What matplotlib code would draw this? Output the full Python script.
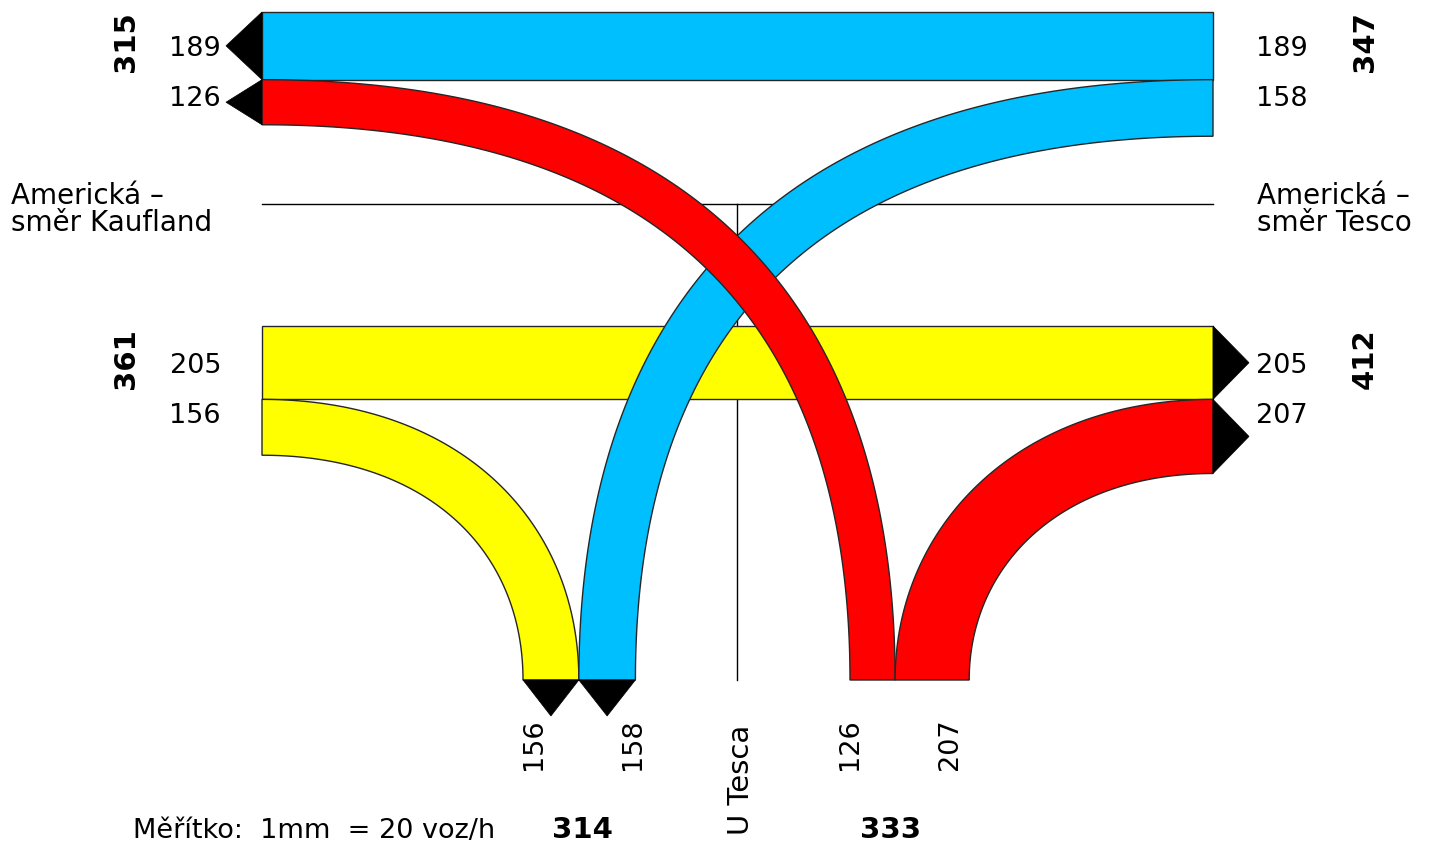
import numpy as np
import matplotlib
matplotlib.use("Agg")
import matplotlib.pyplot as plt
from matplotlib.patches import Polygon

# ---------------- data (voz/h) ----------------
# upper carriageway of Americká (towards Kaufland, flows end on the left side)
upper_left_values = [189, 126]          # straight (blue), from U Tesca (red)
upper_left_total = 315
# upper carriageway, right side (coming from Tesco)
upper_right_values = [189, 158]         # straight (blue), to U Tesca (blue)
upper_right_total = 347
# lower carriageway, left side (coming from Kaufland)
lower_left_values = [205, 156]          # straight (yellow), to U Tesca (yellow)
lower_left_total = 361
# lower carriageway, right side (towards Tesco)
lower_right_values = [205, 207]         # straight (yellow), from U Tesca (red)
lower_right_total = 412
# U Tesca arm (bottom)
bottom_out_values = [156, 158]          # to U Tesca: yellow, blue
bottom_out_total = 314
bottom_in_values = [126, 207]           # from U Tesca: red to left, red to right
bottom_in_total = 333

colors = {"blue": "#00BFFF", "red": "#FF0000", "yellow": "#FFFF00"}
arm_left_name = ["Americká –", "směr Kaufland"]
arm_right_name = ["Americká –", "směr Tesco"]
arm_bottom_name = "U Tesca"
scale_note = "Měřítko:  1mm  = 20 voz/h"

# ---------------- layout ----------------
PX_PER_VEH = 0.358
X_LEFT, X_RIGHT = 262, 1213
Y_TOP, Y_LOWER, Y_BOTTOM = 12, 326, 680
X_BOT_L, X_BOT_R = 523, 850
ARROW = 36
Y_HLINE, X_VLINE = 204, 737
EDGE = "#262626"
LW = 1.0

fig = plt.figure(figsize=(14.37, 8.49), dpi=100)
ax = fig.add_axes([0, 0, 1, 1])
ax.set_xlim(0, 1437)
ax.set_ylim(849, 0)
ax.axis("off")


def stack(start, values):
    w = np.array(values) * PX_PER_VEH
    edges = start + np.concatenate([[0], np.cumsum(w)])
    return edges


ul = stack(Y_TOP, upper_left_values)
ur = stack(Y_TOP, upper_right_values)
ll = stack(Y_LOWER, lower_left_values)
lr = stack(Y_LOWER, lower_right_values)
bl = stack(X_BOT_L, bottom_out_values)
br = stack(X_BOT_R, bottom_in_values)


def hband(x0, x1, y0, y1, color, z):
    ax.add_patch(Polygon([[x0, y0], [x1, y0], [x1, y1], [x0, y1]], closed=True,
                         facecolor=color, edgecolor=EDGE, lw=LW, zorder=z))


def curve_band(xs, ys0, ys1, xb0, xb1, color, k_side, k_bot, z):
    """band from a side (x=xs, y in [ys0,ys1]) to bottom (y=Y_BOTTOM, x in [xb0,xb1])"""
    w = ys1 - ys0
    S = np.array([xs, (ys0 + ys1) / 2])
    B = np.array([(xb0 + xb1) / 2, Y_BOTTOM])
    P1 = np.array([S[0] + k_side * (B[0] - S[0]), S[1]])
    P2 = np.array([B[0], B[1] - k_bot * (B[1] - S[1])])
    t = np.linspace(0, 1, 400)[:, None]
    C = (1 - t) ** 3 * S + 3 * (1 - t) ** 2 * t * P1 + 3 * (1 - t) * t ** 2 * P2 + t ** 3 * B
    D = 3 * (1 - t) ** 2 * (P1 - S) + 6 * (1 - t) * t * (P2 - P1) + 3 * t ** 2 * (B - P2)
    N = np.column_stack([-D[:, 1], D[:, 0]])
    N /= np.linalg.norm(N, axis=1)[:, None]
    e1 = C + N * w / 2
    e2 = C - N * w / 2
    poly = np.vstack([e1, e2[::-1]])
    ax.add_patch(Polygon(poly, closed=True, facecolor=color, edgecolor=EDGE,
                         lw=LW, zorder=z, joinstyle="miter"))


def arrow_side(x, y0, y1, direction):
    ax.add_patch(Polygon([[x, y0], [x, y1], [x + direction * ARROW, (y0 + y1) / 2]],
                         closed=True, facecolor="black", edgecolor="black", lw=0.5, zorder=6))


def arrow_down(x0, x1):
    ax.add_patch(Polygon([[x0, Y_BOTTOM], [x1, Y_BOTTOM], [(x0 + x1) / 2, Y_BOTTOM + ARROW]],
                         closed=True, facecolor="black", edgecolor="black", lw=0.5, zorder=6))


# axis lines of the junction
ax.plot([X_LEFT, X_RIGHT], [Y_HLINE, Y_HLINE], color="black", lw=1.0, zorder=1)
ax.plot([X_VLINE, X_VLINE], [Y_HLINE, Y_BOTTOM], color="black", lw=1.0, zorder=1)

# straight flows
hband(X_LEFT, X_RIGHT, ul[0], ul[1], colors["blue"], 3)
hband(X_LEFT, X_RIGHT, ll[0], ll[1], colors["yellow"], 2)

# turning flows
curve_band(X_LEFT, ll[1], ll[2], bl[0], bl[1], colors["yellow"], 0.62, 0.58, 2)
curve_band(X_RIGHT, ur[1], ur[2], bl[1], bl[2], colors["blue"], 0.8, 0.5, 3)
curve_band(X_LEFT, ul[1], ul[2], br[0], br[1], colors["red"], 0.8, 0.5, 4)
curve_band(X_RIGHT, lr[1], lr[2], br[1], br[2], colors["red"], 0.62, 0.55, 4)

# arrows
arrow_side(X_LEFT, ul[0], ul[1], -1)
arrow_side(X_LEFT, ul[1], ul[2], -1)
arrow_side(X_RIGHT, lr[0], lr[1], 1)
arrow_side(X_RIGHT, lr[1], lr[2], 1)
arrow_down(bl[0], bl[1])
arrow_down(bl[1], bl[2])

# ---------------- texts ----------------
FS = 19.5
FSB = 21
LABEL_GAP = 50
DIG_HALF = 0.729 * FS * 100 / 72 / 2


def side_labels(values, band_edges, total, left):
    c = (band_edges[0] + band_edges[1]) / 2
    for i, v in enumerate(values):
        y = c + i * LABEL_GAP + 0.5
        if left:
            ax.text(X_LEFT - 41, y + DIG_HALF, str(v), ha="right", va="baseline", fontsize=FS, zorder=7)
        else:
            ax.text(X_RIGHT + 43, y + DIG_HALF, str(v), ha="left", va="baseline", fontsize=FS, zorder=7)
    xt = 126 if left else 1365
    ax.text(xt, c - 4, str(total), rotation=90, ha="center", va="center",
            fontsize=FSB, fontweight="bold", zorder=7)


side_labels(upper_left_values, ul, upper_left_total, True)
side_labels(upper_right_values, ur, upper_right_total, False)
side_labels(lower_left_values, ll, lower_left_total, True)
side_labels(lower_right_values, lr, lower_right_total, False)

# arm names
for i, line in enumerate(arm_left_name):
    ax.text(11, 203.5 + i * 27.5, line, ha="left", va="baseline", fontsize=20, zorder=7)
for i, line in enumerate(arm_right_name):
    ax.text(1257, 203.5 + i * 27.5, line, ha="left", va="baseline", fontsize=20, zorder=7)

# bottom labels (rotated)
bottom_label_x = [534, 633, 850, 950]
for x, v in zip(bottom_label_x, bottom_out_values + bottom_in_values):
    ax.text(x, 770, str(v), rotation=90, ha="center", va="bottom", fontsize=FS, zorder=7)
ax.text(741, 835, arm_bottom_name, rotation=90, ha="center", va="bottom", fontsize=21, zorder=7)

# scale and bottom totals
ax.text(133, 838, scale_note, ha="left", va="baseline", fontsize=FS, zorder=7)
ax.text(582, 838, str(bottom_out_total), ha="center", va="baseline", fontsize=FSB, fontweight="bold", zorder=7)
ax.text(891, 838, str(bottom_in_total), ha="center", va="baseline", fontsize=FSB, fontweight="bold", zorder=7)

fig.savefig("out.png", dpi=100)
